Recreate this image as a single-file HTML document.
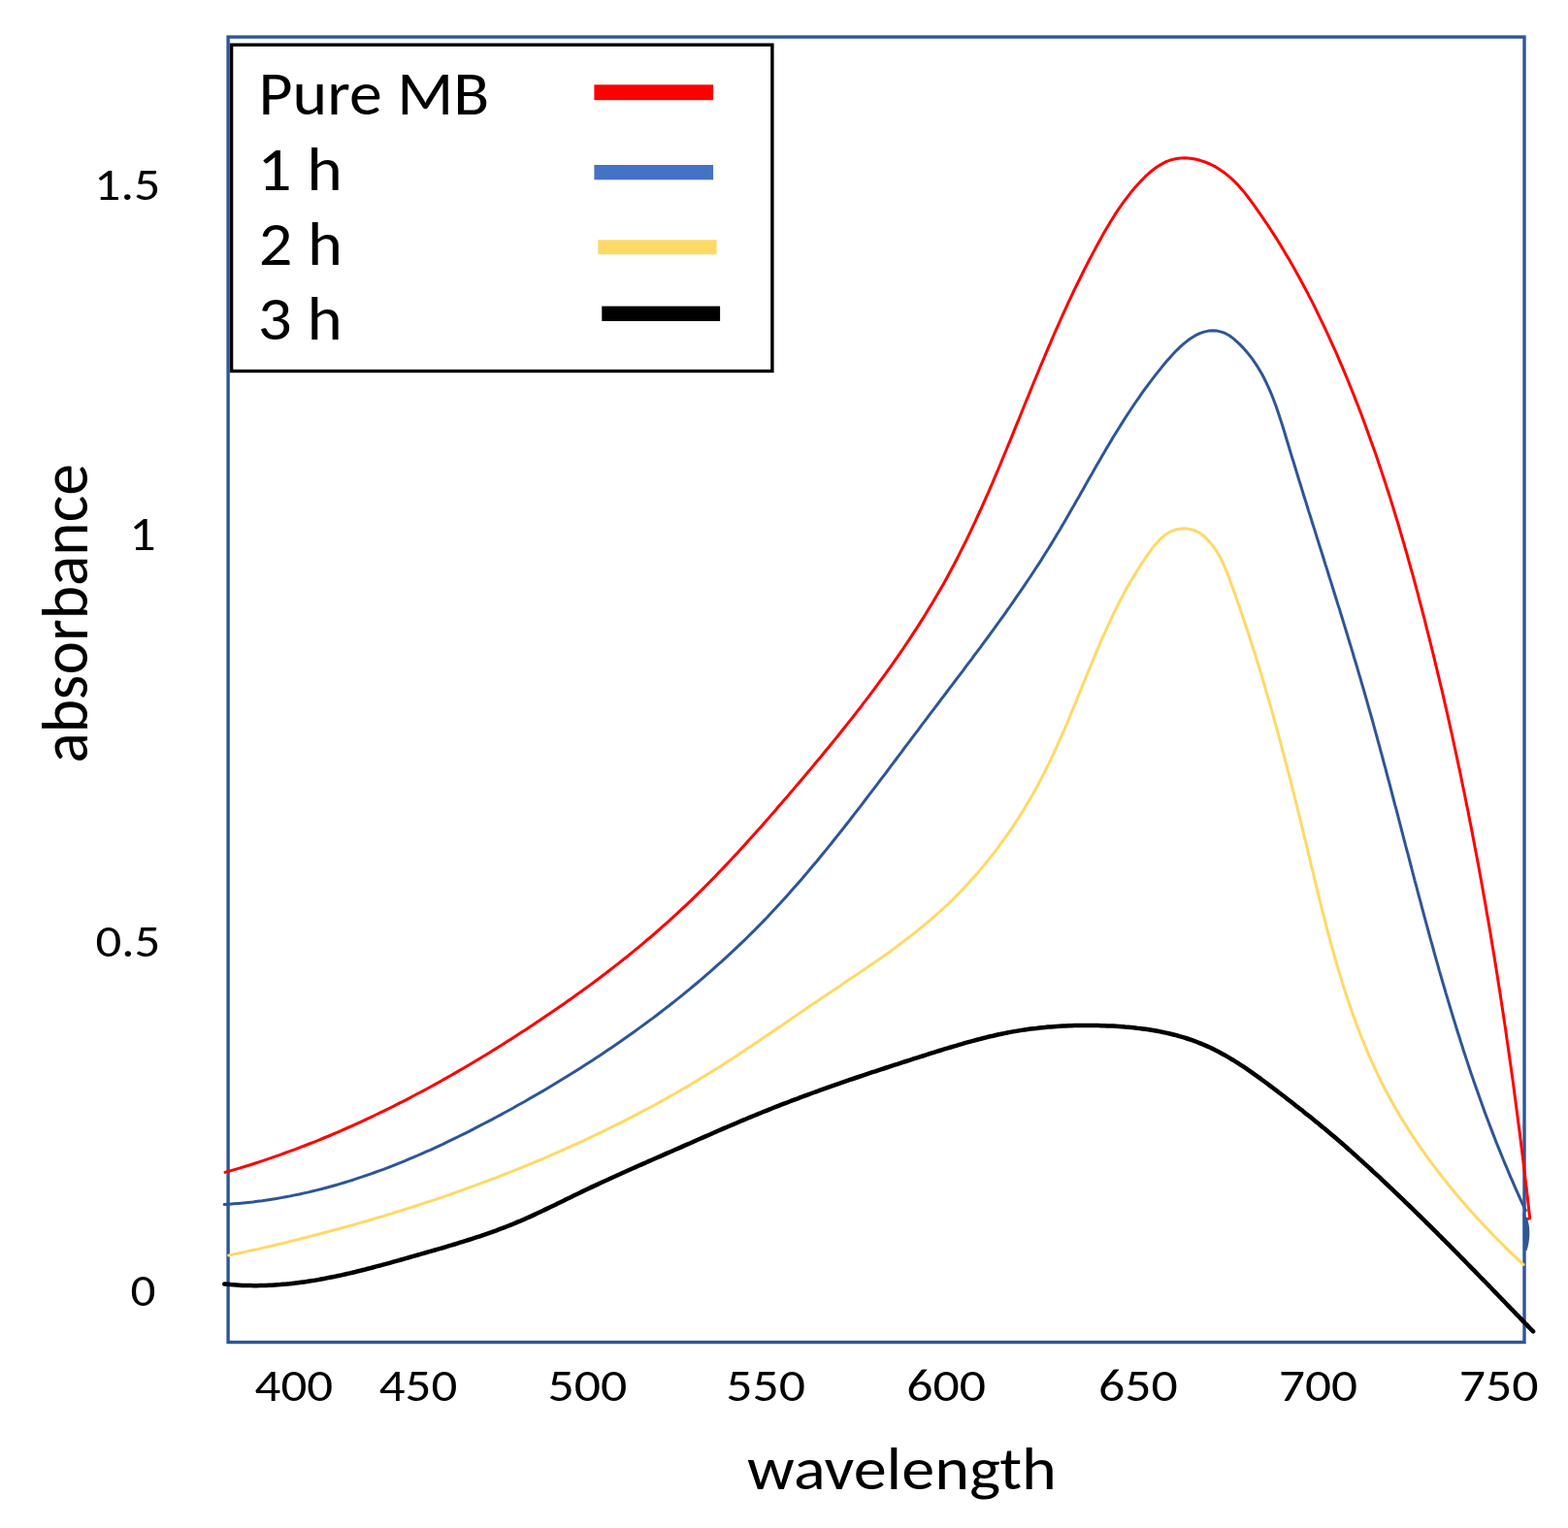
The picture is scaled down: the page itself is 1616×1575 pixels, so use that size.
<!DOCTYPE html>
<html><head><meta charset="utf-8"><title>Absorbance vs wavelength</title>
<style>
html,body{margin:0;padding:0;background:#FFFFFF;}
body{width:1616px;height:1575px;overflow:hidden;}
svg{display:block;}
text{font-size-adjust:cap-height 0.6416;}
</style></head>
<body>
<svg width="1616" height="1575" viewBox="0 0 1616 1575">
<rect x="235.1" y="38.1" width="1335.9" height="1345.4" fill="none" stroke="#2F5597" stroke-width="3.4"/>
<path d="M231.3,1323.5 L234.4,1323.8 L237.5,1324.1 L240.6,1324.3 L243.6,1324.5 L246.7,1324.7 L249.7,1324.9 L252.8,1325.0 L255.9,1325.1 L258.9,1325.1 L261.9,1325.2 L265.0,1325.2 L268.0,1325.1 L271.0,1325.1 L274.1,1325.0 L277.1,1324.8 L280.1,1324.7 L283.1,1324.5 L286.1,1324.3 L289.2,1324.1 L292.2,1323.8 L295.2,1323.6 L298.2,1323.3 L301.2,1322.9 L304.2,1322.6 L307.1,1322.2 L310.1,1321.8 L313.1,1321.4 L316.1,1321.0 L319.1,1320.5 L322.0,1320.1 L325.0,1319.6 L328.0,1319.1 L331.0,1318.5 L333.9,1318.0 L336.9,1317.4 L339.8,1316.8 L342.8,1316.3 L345.8,1315.6 L348.7,1315.0 L351.7,1314.4 L354.6,1313.7 L357.6,1313.0 L360.5,1312.4 L363.4,1311.7 L366.4,1311.0 L369.3,1310.2 L372.3,1309.5 L375.2,1308.8 L378.1,1308.0 L381.1,1307.3 L384.0,1306.5 L386.9,1305.7 L389.9,1304.9 L392.8,1304.2 L395.7,1303.4 L398.6,1302.6 L401.6,1301.8 L404.5,1300.9 L407.4,1300.1 L410.3,1299.3 L413.3,1298.5 L416.2,1297.7 L419.1,1296.8 L422.0,1296.0 L424.9,1295.2 L427.8,1294.3 L430.8,1293.5 L433.7,1292.7 L436.6,1291.8 L439.5,1291.0 L442.4,1290.2 L445.3,1289.3 L448.2,1288.5 L451.1,1287.7 L454.1,1286.8 L457.0,1286.0 L459.9,1285.1 L462.8,1284.2 L465.7,1283.4 L468.6,1282.5 L471.5,1281.6 L474.3,1280.7 L477.2,1279.8 L480.1,1278.9 L483.0,1278.0 L485.9,1277.1 L488.7,1276.2 L491.6,1275.2 L494.5,1274.3 L497.3,1273.3 L500.2,1272.3 L503.0,1271.3 L505.9,1270.3 L508.7,1269.3 L511.6,1268.3 L514.4,1267.2 L517.2,1266.2 L520.0,1265.1 L522.8,1264.0 L525.7,1262.9 L528.5,1261.8 L531.2,1260.6 L534.0,1259.4 L536.8,1258.3 L539.6,1257.1 L542.4,1255.8 L545.1,1254.6 L547.9,1253.4 L550.6,1252.1 L553.4,1250.8 L556.1,1249.5 L558.9,1248.2 L561.6,1246.9 L564.3,1245.6 L567.1,1244.3 L569.8,1243.0 L572.5,1241.7 L575.3,1240.3 L578.0,1239.0 L580.7,1237.7 L583.4,1236.3 L586.2,1235.0 L588.9,1233.7 L591.6,1232.3 L594.4,1231.0 L597.1,1229.7 L599.8,1228.4 L602.6,1227.0 L605.3,1225.7 L608.1,1224.4 L610.8,1223.1 L613.5,1221.9 L616.3,1220.6 L619.0,1219.3 L621.8,1218.0 L624.6,1216.8 L627.3,1215.5 L630.1,1214.2 L632.8,1213.0 L635.6,1211.7 L638.3,1210.5 L641.1,1209.2 L643.9,1208.0 L646.6,1206.8 L649.4,1205.5 L652.2,1204.3 L654.9,1203.1 L657.7,1201.8 L660.5,1200.6 L663.3,1199.4 L666.0,1198.2 L668.8,1196.9 L671.6,1195.7 L674.3,1194.5 L677.1,1193.3 L679.9,1192.1 L682.7,1190.9 L685.4,1189.6 L688.2,1188.4 L691.0,1187.2 L693.8,1186.0 L696.5,1184.8 L699.3,1183.6 L702.1,1182.4 L704.8,1181.1 L707.6,1179.9 L710.4,1178.7 L713.2,1177.5 L715.9,1176.3 L718.7,1175.0 L721.5,1173.8 L724.2,1172.6 L727.0,1171.4 L729.8,1170.2 L732.6,1169.0 L735.3,1167.8 L738.1,1166.5 L740.9,1165.3 L743.6,1164.1 L746.4,1162.9 L749.2,1161.7 L752.0,1160.5 L754.8,1159.4 L757.5,1158.2 L760.3,1157.0 L763.1,1155.8 L765.9,1154.6 L768.7,1153.5 L771.5,1152.3 L774.3,1151.1 L777.1,1150.0 L779.9,1148.8 L782.7,1147.7 L785.5,1146.5 L788.3,1145.4 L791.1,1144.3 L793.9,1143.2 L796.7,1142.0 L799.5,1140.9 L802.3,1139.8 L805.1,1138.7 L808.0,1137.6 L810.8,1136.6 L813.6,1135.5 L816.4,1134.4 L819.3,1133.3 L822.1,1132.3 L824.9,1131.2 L827.8,1130.2 L830.6,1129.1 L833.4,1128.1 L836.3,1127.0 L839.1,1126.0 L842.0,1125.0 L844.8,1123.9 L847.6,1122.9 L850.5,1121.9 L853.3,1120.9 L856.2,1119.9 L859.0,1118.9 L861.9,1117.9 L864.8,1116.9 L867.6,1115.9 L870.5,1114.9 L873.3,1113.9 L876.2,1112.9 L879.0,1112.0 L881.9,1111.0 L884.8,1110.0 L887.6,1109.1 L890.5,1108.1 L893.4,1107.1 L896.2,1106.2 L899.1,1105.2 L902.0,1104.3 L904.9,1103.3 L907.7,1102.4 L910.6,1101.5 L913.5,1100.5 L916.3,1099.6 L919.2,1098.6 L922.1,1097.7 L925.0,1096.8 L927.8,1095.9 L930.7,1094.9 L933.6,1094.0 L936.5,1093.1 L939.4,1092.2 L942.2,1091.2 L945.1,1090.3 L948.0,1089.4 L950.9,1088.5 L953.8,1087.6 L956.6,1086.7 L959.5,1085.7 L962.4,1084.8 L965.3,1083.9 L968.2,1083.0 L971.1,1082.1 L973.9,1081.2 L976.8,1080.4 L979.7,1079.5 L982.6,1078.6 L985.5,1077.8 L988.4,1076.9 L991.3,1076.1 L994.2,1075.2 L997.1,1074.4 L1000.0,1073.6 L1002.9,1072.8 L1005.8,1072.0 L1008.8,1071.3 L1011.7,1070.5 L1014.6,1069.8 L1017.5,1069.0 L1020.5,1068.3 L1023.4,1067.7 L1026.3,1067.0 L1029.3,1066.3 L1032.2,1065.7 L1035.2,1065.1 L1038.1,1064.5 L1041.1,1063.9 L1044.0,1063.4 L1047.0,1062.9 L1050.0,1062.4 L1053.0,1061.9 L1055.9,1061.4 L1058.9,1061.0 L1061.9,1060.6 L1064.9,1060.2 L1067.9,1059.9 L1070.9,1059.5 L1073.9,1059.2 L1077.0,1058.9 L1080.0,1058.6 L1083.0,1058.4 L1086.0,1058.2 L1089.1,1058.0 L1092.1,1057.8 L1095.1,1057.6 L1098.2,1057.5 L1101.2,1057.3 L1104.3,1057.2 L1107.3,1057.1 L1110.4,1057.1 L1113.4,1057.0 L1116.5,1057.0 L1119.5,1057.0 L1122.6,1057.0 L1125.7,1057.0 L1128.7,1057.0 L1131.8,1057.1 L1134.9,1057.2 L1138.0,1057.2 L1141.0,1057.4 L1144.1,1057.5 L1147.2,1057.6 L1150.3,1057.8 L1153.3,1058.0 L1156.4,1058.2 L1159.5,1058.5 L1162.5,1058.7 L1165.6,1059.0 L1168.6,1059.3 L1171.7,1059.7 L1174.7,1060.0 L1177.7,1060.4 L1180.8,1060.8 L1183.8,1061.3 L1186.8,1061.8 L1189.8,1062.3 L1192.8,1062.8 L1195.8,1063.4 L1198.8,1064.0 L1201.7,1064.6 L1204.7,1065.3 L1207.6,1066.0 L1210.5,1066.7 L1213.5,1067.5 L1216.4,1068.3 L1219.2,1069.2 L1222.1,1070.0 L1225.0,1071.0 L1227.8,1071.9 L1230.6,1072.9 L1233.4,1074.0 L1236.2,1075.1 L1239.0,1076.2 L1241.8,1077.4 L1244.5,1078.6 L1247.2,1079.8 L1249.9,1081.1 L1252.6,1082.5 L1255.2,1083.8 L1257.9,1085.2 L1260.5,1086.7 L1263.1,1088.1 L1265.7,1089.6 L1268.3,1091.2 L1270.9,1092.7 L1273.5,1094.3 L1276.0,1095.9 L1278.5,1097.6 L1281.1,1099.2 L1283.6,1100.9 L1286.1,1102.6 L1288.6,1104.3 L1291.1,1106.1 L1293.5,1107.8 L1296.0,1109.6 L1298.5,1111.4 L1300.9,1113.2 L1303.4,1115.0 L1305.8,1116.8 L1308.2,1118.6 L1310.7,1120.5 L1313.1,1122.3 L1315.5,1124.1 L1317.9,1126.0 L1320.3,1127.8 L1322.8,1129.7 L1325.2,1131.5 L1327.6,1133.4 L1330.0,1135.3 L1332.3,1137.1 L1334.7,1139.0 L1337.1,1140.9 L1339.5,1142.7 L1341.9,1144.6 L1344.2,1146.5 L1346.6,1148.4 L1349.0,1150.2 L1351.3,1152.1 L1353.7,1154.0 L1356.0,1155.9 L1358.4,1157.8 L1360.7,1159.7 L1363.0,1161.7 L1365.4,1163.6 L1367.7,1165.5 L1370.0,1167.5 L1372.3,1169.4 L1374.6,1171.3 L1376.9,1173.3 L1379.2,1175.3 L1381.5,1177.2 L1383.8,1179.2 L1386.0,1181.2 L1388.3,1183.2 L1390.6,1185.2 L1392.8,1187.2 L1395.1,1189.2 L1397.3,1191.2 L1399.6,1193.3 L1401.8,1195.3 L1404.1,1197.3 L1406.3,1199.4 L1408.5,1201.4 L1410.8,1203.4 L1413.0,1205.5 L1415.2,1207.6 L1417.4,1209.6 L1419.7,1211.7 L1421.9,1213.7 L1424.1,1215.8 L1426.3,1217.9 L1428.5,1220.0 L1430.7,1222.0 L1432.9,1224.1 L1435.1,1226.2 L1437.3,1228.3 L1439.5,1230.4 L1441.7,1232.5 L1443.9,1234.6 L1446.1,1236.7 L1448.2,1238.8 L1450.4,1240.9 L1452.6,1243.0 L1454.8,1245.1 L1456.9,1247.2 L1459.1,1249.3 L1461.3,1251.5 L1463.5,1253.6 L1465.6,1255.7 L1467.8,1257.8 L1469.9,1260.0 L1472.1,1262.1 L1474.2,1264.2 L1476.4,1266.4 L1478.6,1268.5 L1480.7,1270.6 L1482.8,1272.8 L1485.0,1274.9 L1487.1,1277.1 L1489.3,1279.2 L1491.4,1281.4 L1493.6,1283.5 L1495.7,1285.7 L1497.8,1287.8 L1500.0,1290.0 L1502.1,1292.1 L1504.2,1294.3 L1506.3,1296.5 L1508.5,1298.6 L1510.6,1300.8 L1512.7,1303.0 L1514.8,1305.1 L1517.0,1307.3 L1519.1,1309.4 L1521.2,1311.6 L1523.3,1313.8 L1525.4,1316.0 L1527.5,1318.1 L1529.7,1320.3 L1531.8,1322.5 L1533.9,1324.6 L1536.0,1326.8 L1538.1,1329.0 L1540.2,1331.2 L1542.3,1333.3 L1544.4,1335.5 L1546.5,1337.7 L1548.6,1339.9 L1550.7,1342.0 L1552.8,1344.2 L1554.9,1346.4 L1557.0,1348.6 L1559.1,1350.7 L1561.2,1352.9 L1563.3,1355.1 L1565.4,1357.2 L1567.5,1359.4 L1569.6,1361.6 L1571.7,1363.8 L1573.8,1365.9 L1575.9,1368.1 L1578.0,1370.3 L1580.1,1372.4" fill="none" stroke="#000000" stroke-width="4.5" stroke-linejoin="round" stroke-linecap="round"/>
<path d="M235.7,1294.0 L239.9,1293.1 L244.1,1292.2 L248.3,1291.3 L252.5,1290.4 L256.7,1289.4 L260.9,1288.5 L265.1,1287.6 L269.3,1286.6 L273.5,1285.6 L277.7,1284.7 L281.9,1283.7 L286.1,1282.7 L290.3,1281.7 L294.5,1280.7 L298.7,1279.6 L302.9,1278.6 L307.1,1277.6 L311.3,1276.5 L315.5,1275.5 L319.7,1274.4 L323.8,1273.3 L328.0,1272.2 L332.2,1271.2 L336.4,1270.0 L340.6,1268.9 L344.7,1267.8 L348.9,1266.7 L353.1,1265.5 L357.2,1264.4 L361.4,1263.2 L365.6,1262.1 L369.7,1260.9 L373.9,1259.7 L378.0,1258.5 L382.2,1257.3 L386.3,1256.1 L390.5,1254.8 L394.6,1253.6 L398.8,1252.3 L402.9,1251.1 L407.0,1249.8 L411.2,1248.5 L415.3,1247.2 L419.4,1245.9 L423.6,1244.6 L427.7,1243.3 L431.8,1242.0 L435.9,1240.6 L440.0,1239.3 L444.1,1237.9 L448.2,1236.6 L452.3,1235.2 L456.4,1233.8 L460.5,1232.4 L464.6,1231.0 L468.7,1229.5 L472.7,1228.1 L476.8,1226.6 L480.9,1225.2 L484.9,1223.7 L489.0,1222.2 L493.1,1220.7 L497.1,1219.2 L501.2,1217.7 L505.2,1216.2 L509.2,1214.7 L513.3,1213.1 L517.3,1211.5 L521.3,1210.0 L525.3,1208.4 L529.4,1206.8 L533.4,1205.2 L537.4,1203.6 L541.4,1201.9 L545.4,1200.3 L549.4,1198.6 L553.3,1197.0 L557.3,1195.3 L561.3,1193.6 L565.3,1191.9 L569.2,1190.2 L573.2,1188.5 L577.1,1186.7 L581.1,1185.0 L585.0,1183.2 L589.0,1181.4 L592.9,1179.7 L596.8,1177.9 L600.7,1176.1 L604.6,1174.2 L608.5,1172.4 L612.4,1170.5 L616.3,1168.7 L620.2,1166.8 L624.1,1164.9 L628.0,1163.0 L631.8,1161.1 L635.7,1159.2 L639.6,1157.3 L643.4,1155.3 L647.3,1153.4 L651.1,1151.4 L654.9,1149.4 L658.7,1147.4 L662.6,1145.4 L666.4,1143.3 L670.2,1141.3 L674.0,1139.3 L677.7,1137.2 L681.5,1135.1 L685.3,1133.0 L689.1,1130.9 L692.8,1128.8 L696.6,1126.7 L700.3,1124.5 L704.0,1122.3 L707.8,1120.2 L711.5,1118.0 L715.2,1115.8 L718.9,1113.6 L722.6,1111.3 L726.3,1109.1 L730.0,1106.8 L733.6,1104.6 L737.3,1102.3 L741.0,1100.0 L744.6,1097.7 L748.3,1095.3 L751.9,1093.0 L755.5,1090.7 L759.1,1088.3 L762.7,1085.9 L766.4,1083.5 L770.0,1081.1 L773.6,1078.7 L777.1,1076.3 L780.7,1073.9 L784.3,1071.5 L787.9,1069.1 L791.5,1066.6 L795.1,1064.2 L798.6,1061.8 L802.2,1059.3 L805.8,1056.9 L809.4,1054.4 L812.9,1052.0 L816.5,1049.5 L820.1,1047.1 L823.7,1044.6 L827.2,1042.2 L830.8,1039.7 L834.4,1037.3 L838.0,1034.8 L841.6,1032.4 L845.2,1030.0 L848.8,1027.5 L852.4,1025.1 L856.0,1022.7 L859.6,1020.3 L863.2,1017.9 L866.8,1015.5 L870.4,1013.1 L874.0,1010.6 L877.6,1008.2 L881.2,1005.8 L884.8,1003.4 L888.3,1000.9 L891.9,998.5 L895.5,996.1 L899.1,993.6 L902.6,991.1 L906.1,988.7 L909.7,986.2 L913.2,983.7 L916.7,981.2 L920.2,978.6 L923.7,976.1 L927.1,973.5 L930.6,970.9 L934.0,968.3 L937.4,965.7 L940.8,963.1 L944.2,960.4 L947.5,957.7 L950.9,955.0 L954.2,952.2 L957.4,949.5 L960.7,946.7 L963.9,943.9 L967.1,941.0 L970.3,938.1 L973.5,935.2 L976.6,932.3 L979.7,929.3 L982.8,926.3 L985.8,923.2 L988.8,920.2 L991.8,917.1 L994.8,913.9 L997.7,910.8 L1000.6,907.6 L1003.5,904.4 L1006.3,901.2 L1009.1,897.9 L1011.9,894.6 L1014.7,891.3 L1017.4,888.0 L1020.1,884.6 L1022.8,881.2 L1025.4,877.8 L1028.0,874.3 L1030.6,870.9 L1033.1,867.4 L1035.7,863.9 L1038.2,860.4 L1040.6,856.8 L1043.1,853.2 L1045.5,849.6 L1047.8,846.0 L1050.2,842.4 L1052.5,838.7 L1054.8,835.0 L1057.0,831.3 L1059.2,827.6 L1061.4,823.9 L1063.6,820.1 L1065.7,816.4 L1067.8,812.6 L1069.9,808.8 L1071.9,804.9 L1073.9,801.1 L1075.9,797.2 L1077.9,793.3 L1079.8,789.5 L1081.7,785.6 L1083.6,781.6 L1085.4,777.7 L1087.2,773.8 L1089.0,769.8 L1090.8,765.9 L1092.6,761.9 L1094.3,757.9 L1096.1,753.9 L1097.8,750.0 L1099.5,746.0 L1101.2,742.0 L1102.8,738.0 L1104.5,733.9 L1106.2,729.9 L1107.8,725.9 L1109.5,721.9 L1111.1,717.9 L1112.7,713.9 L1114.4,709.9 L1116.0,705.8 L1117.7,701.8 L1119.3,697.8 L1120.9,693.8 L1122.6,689.8 L1124.2,685.8 L1125.9,681.8 L1127.5,677.9 L1129.2,673.9 L1130.9,669.9 L1132.6,666.0 L1134.3,662.0 L1136.0,658.1 L1137.7,654.2 L1139.5,650.3 L1141.2,646.4 L1143.0,642.5 L1144.8,638.6 L1146.6,634.8 L1148.5,630.9 L1150.4,627.1 L1152.3,623.3 L1154.2,619.5 L1156.2,615.7 L1158.2,611.9 L1160.3,608.1 L1162.4,604.3 L1164.5,600.6 L1166.7,596.8 L1169.0,593.1 L1171.3,589.4 L1173.6,585.7 L1176.0,581.9 L1178.4,578.2 L1180.9,574.5 L1183.5,570.9 L1186.1,567.2 L1188.9,563.6 L1191.7,560.2 L1194.7,556.9 L1197.8,553.9 L1201.1,551.2 L1204.6,549.0 L1208.3,547.1 L1212.3,545.8 L1216.4,545.1 L1220.6,544.8 L1224.8,545.1 L1228.9,546.0 L1232.9,547.5 L1236.7,549.6 L1240.2,552.2 L1243.4,555.2 L1246.4,558.4 L1249.2,561.7 L1251.8,565.2 L1254.2,568.8 L1256.4,572.5 L1258.4,576.3 L1260.3,580.2 L1262.1,584.1 L1263.7,588.1 L1265.3,592.2 L1266.9,596.3 L1268.4,600.4 L1269.9,604.4 L1271.4,608.5 L1272.8,612.6 L1274.3,616.8 L1275.7,620.9 L1277.2,625.0 L1278.6,629.1 L1280.0,633.2 L1281.4,637.3 L1282.8,641.4 L1284.1,645.5 L1285.5,649.6 L1286.9,653.8 L1288.2,657.9 L1289.5,662.0 L1290.8,666.1 L1292.2,670.2 L1293.5,674.4 L1294.7,678.5 L1296.0,682.6 L1297.3,686.8 L1298.6,690.9 L1299.8,695.0 L1301.0,699.2 L1302.3,703.3 L1303.5,707.5 L1304.7,711.6 L1305.9,715.8 L1307.1,719.9 L1308.3,724.0 L1309.5,728.2 L1310.7,732.4 L1311.8,736.5 L1313.0,740.7 L1314.2,744.8 L1315.3,749.0 L1316.4,753.1 L1317.6,757.3 L1318.7,761.5 L1319.8,765.6 L1320.9,769.8 L1322.0,774.0 L1323.2,778.2 L1324.2,782.3 L1325.3,786.5 L1326.4,790.7 L1327.5,794.9 L1328.6,799.0 L1329.7,803.2 L1330.7,807.4 L1331.8,811.6 L1332.8,815.8 L1333.9,820.0 L1334.9,824.2 L1336.0,828.4 L1337.0,832.6 L1338.1,836.8 L1339.1,841.0 L1340.1,845.2 L1341.2,849.4 L1342.2,853.6 L1343.2,857.8 L1344.2,862.0 L1345.2,866.2 L1346.3,870.4 L1347.3,874.6 L1348.3,878.8 L1349.3,883.0 L1350.3,887.3 L1351.3,891.5 L1352.3,895.7 L1353.4,899.9 L1354.4,904.1 L1355.4,908.3 L1356.4,912.6 L1357.4,916.8 L1358.5,921.0 L1359.5,925.2 L1360.5,929.4 L1361.6,933.6 L1362.6,937.8 L1363.7,942.0 L1364.8,946.2 L1365.9,950.4 L1366.9,954.6 L1368.0,958.8 L1369.1,963.0 L1370.3,967.2 L1371.4,971.4 L1372.5,975.5 L1373.7,979.7 L1374.9,983.9 L1376.0,988.0 L1377.2,992.2 L1378.4,996.3 L1379.7,1000.5 L1380.9,1004.6 L1382.2,1008.7 L1383.4,1012.9 L1384.7,1017.0 L1386.0,1021.1 L1387.4,1025.2 L1388.7,1029.3 L1390.1,1033.4 L1391.5,1037.4 L1392.9,1041.5 L1394.3,1045.6 L1395.8,1049.6 L1397.2,1053.7 L1398.7,1057.7 L1400.3,1061.7 L1401.8,1065.7 L1403.4,1069.7 L1405.0,1073.7 L1406.6,1077.7 L1408.3,1081.7 L1409.9,1085.6 L1411.7,1089.6 L1413.4,1093.5 L1415.2,1097.4 L1417.0,1101.3 L1418.8,1105.2 L1420.6,1109.1 L1422.5,1113.0 L1424.5,1116.8 L1426.4,1120.7 L1428.4,1124.5 L1430.4,1128.3 L1432.5,1132.1 L1434.6,1135.9 L1436.7,1139.6 L1438.8,1143.4 L1441.0,1147.1 L1443.2,1150.9 L1445.5,1154.6 L1447.8,1158.3 L1450.1,1161.9 L1452.4,1165.6 L1454.8,1169.2 L1457.2,1172.9 L1459.6,1176.5 L1462.1,1180.1 L1464.5,1183.7 L1467.1,1187.2 L1469.6,1190.8 L1472.1,1194.3 L1474.7,1197.8 L1477.3,1201.3 L1480.0,1204.8 L1482.6,1208.3 L1485.3,1211.7 L1488.0,1215.1 L1490.7,1218.5 L1493.4,1221.9 L1496.2,1225.3 L1499.0,1228.7 L1501.8,1232.0 L1504.6,1235.3 L1507.4,1238.6 L1510.3,1241.9 L1513.1,1245.2 L1516.0,1248.4 L1518.9,1251.6 L1521.8,1254.9 L1524.8,1258.0 L1527.7,1261.2 L1530.7,1264.4 L1533.6,1267.5 L1536.6,1270.6 L1539.6,1273.7 L1542.6,1276.8 L1545.6,1279.8 L1548.7,1282.8 L1551.7,1285.9 L1554.7,1288.8 L1557.8,1291.8 L1560.9,1294.8 L1563.9,1297.7 L1567.0,1300.6 L1570.1,1303.5" fill="none" stroke="#FFD966" stroke-width="3.0" stroke-linejoin="round" stroke-linecap="round"/>
<path d="M231.1,1241.5 L236.1,1241.2 L241.0,1240.8 L245.9,1240.4 L250.8,1239.9 L255.7,1239.4 L260.6,1238.9 L265.4,1238.3 L270.3,1237.7 L275.1,1237.0 L279.9,1236.2 L284.7,1235.5 L289.5,1234.6 L294.2,1233.8 L299.0,1232.9 L303.7,1231.9 L308.4,1231.0 L313.1,1229.9 L317.8,1228.9 L322.4,1227.8 L327.1,1226.6 L331.7,1225.5 L336.3,1224.2 L340.9,1223.0 L345.5,1221.7 L350.1,1220.4 L354.7,1219.0 L359.2,1217.6 L363.8,1216.2 L368.3,1214.7 L372.8,1213.2 L377.3,1211.7 L381.8,1210.1 L386.3,1208.5 L390.7,1206.9 L395.2,1205.3 L399.6,1203.6 L404.1,1201.9 L408.5,1200.1 L412.9,1198.4 L417.3,1196.6 L421.7,1194.7 L426.1,1192.9 L430.4,1191.0 L434.8,1189.1 L439.1,1187.2 L443.5,1185.3 L447.8,1183.3 L452.1,1181.3 L456.5,1179.3 L460.8,1177.2 L465.0,1175.2 L469.3,1173.1 L473.6,1171.0 L477.9,1168.9 L482.1,1166.8 L486.4,1164.6 L490.6,1162.4 L494.9,1160.2 L499.1,1158.0 L503.3,1155.8 L507.6,1153.6 L511.8,1151.3 L516.0,1149.1 L520.2,1146.8 L524.4,1144.5 L528.6,1142.2 L532.7,1139.8 L536.9,1137.5 L541.1,1135.2 L545.2,1132.8 L549.4,1130.4 L553.5,1128.0 L557.7,1125.6 L561.8,1123.2 L565.9,1120.7 L570.0,1118.3 L574.1,1115.8 L578.2,1113.3 L582.3,1110.8 L586.4,1108.3 L590.4,1105.8 L594.5,1103.2 L598.5,1100.7 L602.6,1098.1 L606.6,1095.5 L610.6,1092.9 L614.6,1090.3 L618.6,1087.7 L622.6,1085.0 L626.5,1082.3 L630.5,1079.7 L634.4,1077.0 L638.4,1074.2 L642.3,1071.5 L646.2,1068.8 L650.1,1066.0 L654.0,1063.2 L657.9,1060.4 L661.7,1057.6 L665.6,1054.8 L669.4,1051.9 L673.3,1049.1 L677.1,1046.2 L680.9,1043.3 L684.6,1040.4 L688.4,1037.5 L692.2,1034.5 L695.9,1031.6 L699.6,1028.6 L703.4,1025.6 L707.0,1022.6 L710.7,1019.6 L714.4,1016.5 L718.1,1013.5 L721.7,1010.4 L725.3,1007.3 L728.9,1004.2 L732.5,1001.1 L736.1,997.9 L739.6,994.7 L743.2,991.6 L746.7,988.4 L750.2,985.1 L753.7,981.9 L757.2,978.7 L760.6,975.4 L764.0,972.1 L767.5,968.8 L770.9,965.5 L774.2,962.1 L777.6,958.8 L781.0,955.4 L784.3,952.0 L787.6,948.6 L790.9,945.2 L794.1,941.7 L797.4,938.2 L800.6,934.8 L803.9,931.3 L807.1,927.8 L810.3,924.2 L813.4,920.7 L816.6,917.1 L819.7,913.6 L822.9,910.0 L826.0,906.4 L829.1,902.8 L832.2,899.1 L835.2,895.5 L838.3,891.8 L841.4,888.2 L844.4,884.5 L847.4,880.8 L850.5,877.1 L853.5,873.4 L856.5,869.7 L859.4,866.0 L862.4,862.3 L865.4,858.5 L868.4,854.8 L871.3,851.0 L874.3,847.3 L877.2,843.5 L880.1,839.7 L883.1,835.9 L886.0,832.1 L888.9,828.3 L891.8,824.5 L894.7,820.7 L897.6,816.9 L900.5,813.1 L903.4,809.3 L906.3,805.4 L909.2,801.6 L912.1,797.8 L915.0,794.0 L917.8,790.1 L920.7,786.3 L923.6,782.5 L926.5,778.6 L929.4,774.8 L932.2,770.9 L935.1,767.1 L938.0,763.3 L940.9,759.4 L943.8,755.6 L946.7,751.8 L949.5,747.9 L952.4,744.1 L955.3,740.3 L958.2,736.4 L961.1,732.6 L964.0,728.8 L966.9,725.0 L969.8,721.1 L972.7,717.3 L975.6,713.5 L978.5,709.7 L981.4,705.9 L984.3,702.0 L987.2,698.2 L990.1,694.4 L993.0,690.6 L995.8,686.7 L998.7,682.9 L1001.6,679.1 L1004.4,675.2 L1007.3,671.4 L1010.2,667.6 L1013.0,663.7 L1015.8,659.9 L1018.7,656.0 L1021.5,652.1 L1024.3,648.3 L1027.1,644.4 L1029.9,640.5 L1032.7,636.7 L1035.5,632.8 L1038.2,628.9 L1041.0,625.0 L1043.7,621.1 L1046.4,617.2 L1049.1,613.2 L1051.8,609.3 L1054.5,605.4 L1057.2,601.4 L1059.8,597.5 L1062.5,593.5 L1065.1,589.5 L1067.7,585.5 L1070.3,581.6 L1072.9,577.6 L1075.4,573.5 L1077.9,569.5 L1080.5,565.5 L1083.0,561.4 L1085.4,557.4 L1087.9,553.3 L1090.3,549.2 L1092.8,545.2 L1095.2,541.1 L1097.6,537.0 L1100.0,532.8 L1102.3,528.7 L1104.7,524.6 L1107.1,520.5 L1109.4,516.3 L1111.8,512.2 L1114.1,508.1 L1116.5,503.9 L1118.8,499.8 L1121.2,495.6 L1123.5,491.5 L1125.9,487.4 L1128.2,483.2 L1130.6,479.1 L1133.0,475.0 L1135.4,470.8 L1137.8,466.7 L1140.2,462.6 L1142.6,458.5 L1145.1,454.4 L1147.5,450.3 L1150.0,446.2 L1152.5,442.2 L1155.1,438.1 L1157.6,434.1 L1160.2,430.0 L1162.8,426.0 L1165.5,422.0 L1168.1,418.0 L1170.8,414.0 L1173.6,410.1 L1176.3,406.1 L1179.1,402.2 L1182.0,398.3 L1184.9,394.4 L1187.8,390.6 L1190.8,386.7 L1193.8,382.9 L1196.8,379.1 L1199.9,375.3 L1203.1,371.6 L1206.3,367.9 L1209.6,364.3 L1213.0,360.8 L1216.5,357.4 L1220.2,354.1 L1224.0,351.1 L1228.0,348.3 L1232.2,345.7 L1236.5,343.6 L1240.9,342.1 L1245.4,341.1 L1249.9,340.8 L1254.4,341.1 L1258.8,342.1 L1263.1,343.7 L1267.2,346.0 L1271.0,348.9 L1274.7,352.1 L1278.2,355.4 L1281.6,358.9 L1284.7,362.5 L1287.7,366.1 L1290.6,369.9 L1293.3,373.8 L1295.9,377.7 L1298.3,381.7 L1300.7,385.8 L1302.9,390.0 L1305.0,394.3 L1307.0,398.6 L1308.9,402.9 L1310.8,407.3 L1312.5,411.8 L1314.2,416.3 L1315.8,420.8 L1317.4,425.4 L1318.9,430.0 L1320.4,434.6 L1321.9,439.2 L1323.3,443.9 L1324.7,448.5 L1326.1,453.2 L1327.5,457.8 L1328.9,462.5 L1330.3,467.1 L1331.7,471.8 L1333.2,476.4 L1334.6,481.0 L1336.0,485.6 L1337.4,490.3 L1338.8,494.9 L1340.3,499.5 L1341.7,504.1 L1343.1,508.7 L1344.5,513.3 L1346.0,517.9 L1347.4,522.5 L1348.8,527.1 L1350.3,531.6 L1351.7,536.2 L1353.1,540.8 L1354.6,545.4 L1356.0,549.9 L1357.4,554.5 L1358.9,559.1 L1360.3,563.6 L1361.8,568.2 L1363.2,572.8 L1364.6,577.3 L1366.0,581.9 L1367.5,586.4 L1368.9,591.0 L1370.3,595.6 L1371.8,600.1 L1373.2,604.7 L1374.6,609.2 L1376.0,613.8 L1377.4,618.3 L1378.8,622.9 L1380.3,627.4 L1381.7,632.0 L1383.1,636.5 L1384.5,641.1 L1385.9,645.6 L1387.3,650.2 L1388.7,654.7 L1390.0,659.3 L1391.4,663.8 L1392.8,668.4 L1394.2,672.9 L1395.5,677.5 L1396.9,682.0 L1398.3,686.6 L1399.6,691.2 L1400.9,695.7 L1402.3,700.3 L1403.6,704.9 L1405.0,709.5 L1406.3,714.0 L1407.6,718.6 L1408.9,723.2 L1410.2,727.8 L1411.5,732.4 L1412.8,737.0 L1414.1,741.5 L1415.4,746.1 L1416.6,750.7 L1417.9,755.3 L1419.2,760.0 L1420.4,764.6 L1421.7,769.2 L1422.9,773.8 L1424.2,778.4 L1425.4,783.0 L1426.6,787.6 L1427.9,792.2 L1429.1,796.9 L1430.3,801.5 L1431.6,806.1 L1432.8,810.7 L1434.0,815.4 L1435.2,820.0 L1436.4,824.6 L1437.6,829.3 L1438.9,833.9 L1440.1,838.5 L1441.3,843.2 L1442.5,847.8 L1443.7,852.4 L1444.9,857.1 L1446.1,861.7 L1447.3,866.3 L1448.5,871.0 L1449.7,875.6 L1451.0,880.2 L1452.2,884.9 L1453.4,889.5 L1454.6,894.2 L1455.8,898.8 L1457.0,903.4 L1458.2,908.1 L1459.5,912.7 L1460.7,917.3 L1461.9,922.0 L1463.2,926.6 L1464.4,931.2 L1465.6,935.9 L1466.9,940.5 L1468.1,945.1 L1469.4,949.8 L1470.6,954.4 L1471.9,959.0 L1473.1,963.6 L1474.4,968.3 L1475.7,972.9 L1477.0,977.5 L1478.2,982.1 L1479.5,986.7 L1480.8,991.3 L1482.1,995.9 L1483.4,1000.6 L1484.8,1005.2 L1486.1,1009.8 L1487.4,1014.4 L1488.8,1019.0 L1490.1,1023.6 L1491.5,1028.1 L1492.8,1032.7 L1494.2,1037.3 L1495.6,1041.9 L1497.0,1046.5 L1498.4,1051.1 L1499.8,1055.6 L1501.2,1060.2 L1502.6,1064.8 L1504.1,1069.3 L1505.5,1073.9 L1507.0,1078.4 L1508.4,1083.0 L1509.9,1087.5 L1511.4,1092.1 L1512.9,1096.6 L1514.4,1101.2 L1515.9,1105.7 L1517.5,1110.2 L1519.0,1114.7 L1520.6,1119.2 L1522.2,1123.8 L1523.8,1128.3 L1525.4,1132.8 L1527.0,1137.3 L1528.6,1141.7 L1530.2,1146.2 L1531.9,1150.7 L1533.6,1155.2 L1535.3,1159.7 L1537.0,1164.1 L1538.7,1168.6 L1540.4,1173.0 L1542.1,1177.5 L1543.9,1181.9 L1545.7,1186.4 L1547.5,1190.8 L1549.3,1195.2 L1551.1,1199.6 L1553.0,1204.0 L1554.8,1208.4 L1556.7,1212.8 L1558.6,1217.2 L1560.5,1221.6 L1562.4,1226.0 L1564.4,1230.3 L1566.3,1234.7 L1568.3,1239.1 L1570.3,1243.4 L1572.4,1247.7" fill="none" stroke="#2F5597" stroke-width="3.0" stroke-linejoin="round" stroke-linecap="round"/>
<path d="M232.0,1208.4 L237.2,1206.9 L242.4,1205.4 L247.6,1203.9 L252.8,1202.3 L257.9,1200.7 L263.1,1199.0 L268.2,1197.3 L273.3,1195.6 L278.4,1193.9 L283.5,1192.1 L288.6,1190.4 L293.6,1188.5 L298.7,1186.7 L303.7,1184.8 L308.8,1182.9 L313.8,1181.0 L318.8,1179.0 L323.8,1177.1 L328.7,1175.1 L333.7,1173.0 L338.7,1171.0 L343.6,1168.9 L348.5,1166.8 L353.4,1164.6 L358.3,1162.5 L363.2,1160.3 L368.1,1158.1 L373.0,1155.9 L377.8,1153.6 L382.7,1151.3 L387.5,1149.0 L392.4,1146.7 L397.2,1144.4 L402.0,1142.0 L406.8,1139.6 L411.5,1137.2 L416.3,1134.8 L421.1,1132.3 L425.8,1129.8 L430.5,1127.3 L435.3,1124.8 L440.0,1122.3 L444.7,1119.7 L449.4,1117.1 L454.1,1114.5 L458.7,1111.9 L463.4,1109.3 L468.1,1106.6 L472.7,1103.9 L477.3,1101.2 L482.0,1098.5 L486.6,1095.8 L491.2,1093.0 L495.8,1090.3 L500.4,1087.5 L504.9,1084.7 L509.5,1081.9 L514.1,1079.0 L518.6,1076.2 L523.1,1073.3 L527.7,1070.4 L532.2,1067.5 L536.7,1064.6 L541.2,1061.7 L545.7,1058.8 L550.2,1055.8 L554.6,1052.8 L559.1,1049.8 L563.5,1046.8 L568.0,1043.8 L572.4,1040.8 L576.8,1037.7 L581.2,1034.7 L585.6,1031.6 L590.0,1028.5 L594.4,1025.3 L598.7,1022.2 L603.1,1019.0 L607.4,1015.9 L611.7,1012.7 L616.0,1009.5 L620.3,1006.2 L624.6,1003.0 L628.8,999.7 L633.1,996.4 L637.3,993.1 L641.5,989.8 L645.7,986.5 L649.8,983.1 L654.0,979.7 L658.1,976.3 L662.3,972.9 L666.3,969.4 L670.4,966.0 L674.5,962.5 L678.5,959.0 L682.5,955.4 L686.5,951.9 L690.5,948.3 L694.5,944.7 L698.4,941.1 L702.3,937.4 L706.2,933.8 L710.1,930.1 L714.0,926.4 L717.8,922.6 L721.6,918.9 L725.4,915.1 L729.2,911.3 L732.9,907.5 L736.7,903.7 L740.4,899.8 L744.1,896.0 L747.8,892.1 L751.5,888.2 L755.1,884.3 L758.8,880.4 L762.4,876.4 L766.0,872.5 L769.6,868.5 L773.2,864.5 L776.8,860.5 L780.4,856.5 L784.0,852.5 L787.5,848.5 L791.1,844.5 L794.6,840.4 L798.1,836.4 L801.6,832.3 L805.1,828.2 L808.6,824.2 L812.1,820.1 L815.6,816.0 L819.1,811.9 L822.6,807.8 L826.1,803.7 L829.5,799.6 L833.0,795.5 L836.5,791.4 L839.9,787.3 L843.3,783.1 L846.8,779.0 L850.2,774.8 L853.6,770.7 L857.0,766.5 L860.4,762.4 L863.8,758.2 L867.1,754.0 L870.5,749.8 L873.8,745.6 L877.2,741.4 L880.5,737.1 L883.8,732.9 L887.1,728.7 L890.3,724.4 L893.6,720.1 L896.8,715.9 L900.0,711.6 L903.2,707.3 L906.4,702.9 L909.6,698.6 L912.7,694.3 L915.9,689.9 L919.0,685.6 L922.1,681.2 L925.1,676.8 L928.2,672.4 L931.2,668.0 L934.2,663.5 L937.2,659.1 L940.1,654.6 L943.0,650.1 L946.0,645.6 L948.8,641.1 L951.7,636.6 L954.5,632.0 L957.3,627.4 L960.1,622.9 L962.8,618.3 L965.6,613.6 L968.3,609.0 L970.9,604.4 L973.6,599.7 L976.2,595.0 L978.7,590.3 L981.3,585.5 L983.8,580.8 L986.3,576.0 L988.7,571.2 L991.1,566.4 L993.5,561.6 L995.9,556.8 L998.3,551.9 L1000.6,547.1 L1002.9,542.2 L1005.2,537.3 L1007.4,532.4 L1009.7,527.5 L1011.9,522.6 L1014.1,517.7 L1016.3,512.7 L1018.5,507.8 L1020.6,502.8 L1022.8,497.9 L1024.9,492.9 L1027.0,487.9 L1029.1,483.0 L1031.2,478.0 L1033.2,473.0 L1035.3,468.0 L1037.4,463.0 L1039.4,458.1 L1041.5,453.1 L1043.5,448.1 L1045.5,443.1 L1047.5,438.1 L1049.6,433.2 L1051.6,428.2 L1053.6,423.2 L1055.6,418.3 L1057.6,413.3 L1059.7,408.4 L1061.7,403.4 L1063.7,398.5 L1065.7,393.5 L1067.8,388.6 L1069.8,383.7 L1071.8,378.8 L1073.9,373.9 L1076.0,369.0 L1078.0,364.1 L1080.1,359.2 L1082.2,354.3 L1084.3,349.4 L1086.4,344.5 L1088.5,339.7 L1090.7,334.8 L1092.8,330.0 L1095.0,325.2 L1097.2,320.3 L1099.4,315.5 L1101.6,310.7 L1103.9,305.9 L1106.1,301.1 L1108.4,296.3 L1110.8,291.5 L1113.1,286.8 L1115.5,282.0 L1117.8,277.3 L1120.3,272.5 L1122.7,267.8 L1125.2,263.1 L1127.7,258.4 L1130.2,253.7 L1132.8,249.0 L1135.4,244.3 L1138.0,239.6 L1140.7,235.0 L1143.4,230.4 L1146.3,225.8 L1149.1,221.2 L1152.1,216.7 L1155.2,212.2 L1158.4,207.7 L1161.7,203.3 L1165.1,198.9 L1168.6,194.6 L1172.3,190.4 L1176.2,186.2 L1180.1,182.2 L1184.2,178.5 L1188.4,175.0 L1192.8,171.8 L1197.3,169.1 L1201.9,166.7 L1206.7,164.9 L1211.5,163.7 L1216.5,163.0 L1221.6,162.8 L1226.7,163.2 L1231.8,164.0 L1236.9,165.3 L1241.9,167.0 L1246.8,169.0 L1251.7,171.4 L1256.3,174.2 L1260.8,177.2 L1265.1,180.6 L1269.2,184.1 L1273.1,187.9 L1276.8,191.8 L1280.4,195.9 L1283.9,200.1 L1287.2,204.5 L1290.5,208.9 L1293.7,213.3 L1296.8,217.8 L1300.0,222.3 L1303.0,226.8 L1306.1,231.3 L1309.0,235.8 L1312.0,240.4 L1314.9,244.9 L1317.8,249.5 L1320.6,254.1 L1323.4,258.7 L1326.1,263.4 L1328.9,268.0 L1331.6,272.7 L1334.2,277.3 L1336.8,282.0 L1339.4,286.7 L1342.0,291.4 L1344.5,296.2 L1347.0,300.9 L1349.4,305.6 L1351.9,310.4 L1354.3,315.2 L1356.7,320.0 L1359.0,324.8 L1361.3,329.6 L1363.6,334.4 L1365.9,339.2 L1368.2,344.1 L1370.4,348.9 L1372.6,353.8 L1374.8,358.7 L1377.0,363.5 L1379.1,368.4 L1381.2,373.3 L1383.3,378.2 L1385.4,383.2 L1387.5,388.1 L1389.5,393.0 L1391.5,398.0 L1393.5,402.9 L1395.5,407.9 L1397.4,412.9 L1399.4,417.8 L1401.3,422.8 L1403.2,427.8 L1405.1,432.8 L1407.0,437.9 L1408.8,442.9 L1410.6,447.9 L1412.4,452.9 L1414.2,458.0 L1416.0,463.0 L1417.8,468.1 L1419.5,473.1 L1421.2,478.2 L1422.9,483.3 L1424.6,488.4 L1426.3,493.5 L1428.0,498.6 L1429.6,503.7 L1431.3,508.8 L1432.9,513.9 L1434.5,519.0 L1436.1,524.1 L1437.6,529.2 L1439.2,534.4 L1440.8,539.5 L1442.3,544.7 L1443.8,549.8 L1445.3,555.0 L1446.8,560.1 L1448.3,565.3 L1449.8,570.4 L1451.2,575.6 L1452.7,580.8 L1454.1,586.0 L1455.6,591.1 L1457.0,596.3 L1458.4,601.5 L1459.8,606.7 L1461.2,611.9 L1462.5,617.1 L1463.9,622.3 L1465.3,627.5 L1466.6,632.7 L1468.0,637.9 L1469.3,643.1 L1470.6,648.3 L1471.9,653.5 L1473.2,658.7 L1474.5,663.9 L1475.8,669.1 L1477.1,674.3 L1478.4,679.6 L1479.6,684.8 L1480.9,690.0 L1482.1,695.2 L1483.4,700.5 L1484.6,705.7 L1485.9,710.9 L1487.1,716.1 L1488.3,721.4 L1489.5,726.6 L1490.7,731.8 L1491.9,737.1 L1493.1,742.3 L1494.2,747.5 L1495.4,752.8 L1496.6,758.0 L1497.7,763.3 L1498.8,768.5 L1500.0,773.8 L1501.1,779.0 L1502.2,784.3 L1503.3,789.5 L1504.5,794.8 L1505.6,800.0 L1506.6,805.3 L1507.7,810.5 L1508.8,815.8 L1509.9,821.0 L1510.9,826.3 L1512.0,831.6 L1513.1,836.8 L1514.1,842.1 L1515.1,847.4 L1516.2,852.6 L1517.2,857.9 L1518.2,863.2 L1519.2,868.4 L1520.2,873.7 L1521.2,879.0 L1522.2,884.3 L1523.2,889.5 L1524.2,894.8 L1525.1,900.1 L1526.1,905.4 L1527.0,910.6 L1528.0,915.9 L1528.9,921.2 L1529.9,926.5 L1530.8,931.8 L1531.7,937.1 L1532.6,942.4 L1533.6,947.6 L1534.5,952.9 L1535.4,958.2 L1536.3,963.5 L1537.1,968.8 L1538.0,974.1 L1538.9,979.4 L1539.8,984.7 L1540.6,990.0 L1541.5,995.3 L1542.3,1000.6 L1543.2,1005.9 L1544.0,1011.2 L1544.8,1016.5 L1545.7,1021.8 L1546.5,1027.1 L1547.3,1032.4 L1548.1,1037.7 L1548.9,1043.0 L1549.7,1048.3 L1550.5,1053.6 L1551.3,1058.9 L1552.1,1064.3 L1552.8,1069.6 L1553.6,1074.9 L1554.4,1080.2 L1555.1,1085.5 L1555.9,1090.8 L1556.6,1096.1 L1557.4,1101.4 L1558.1,1106.8 L1558.9,1112.1 L1559.6,1117.4 L1560.3,1122.7 L1561.0,1128.0 L1561.7,1133.3 L1562.4,1138.7 L1563.1,1144.0 L1563.8,1149.3 L1564.5,1154.6 L1565.2,1160.0 L1565.9,1165.3 L1566.6,1170.6 L1567.2,1175.9 L1567.9,1181.2 L1568.6,1186.6 L1569.2,1191.9 L1569.9,1197.2 L1570.5,1202.6 L1571.2,1207.9 L1571.8,1213.2 L1572.4,1218.5 L1573.1,1223.9 L1573.7,1229.2 L1574.3,1234.5 L1574.9,1239.9 L1575.5,1245.2 L1576.1,1250.5 L1576.7,1255.8 L1571.5,1257.0" fill="none" stroke="#FF0000" stroke-width="3.0" stroke-linejoin="round" stroke-linecap="round"/>
<path d="M1569.5,1250 C1577.5,1256 1578,1276 1573.5,1289 L1570,1289 Z" fill="#2F5597"/>
<rect x="238.6" y="46.2" width="557.3" height="336.3" fill="#FFFFFF" stroke="#000000" stroke-width="3.4"/>
<rect x="612.4" y="87.3" width="122.7" height="15.9" fill="#FF0000"/>
<rect x="612.4" y="170" width="122.7" height="15.3" fill="#4472C4"/>
<rect x="616.3" y="247.3" width="122.3" height="14.9" fill="#FFD966"/>
<rect x="620.3" y="315.6" width="121.8" height="15.4" fill="#000000"/>
<g font-family="Carlito, 'Liberation Sans', sans-serif" fill="#000000">
<text x="266.44" y="118.30" font-size="64.06" textLength="237.77" lengthAdjust="spacingAndGlyphs">Pure MB</text>
<text x="265.17" y="195.90" font-size="64.38" textLength="87.79" lengthAdjust="spacingAndGlyphs">1 h</text>
<text x="266.72" y="272.70" font-size="63.37" textLength="86.15" lengthAdjust="spacingAndGlyphs">2 h</text>
<text x="265.89" y="350.20" font-size="64.38" textLength="87.03" lengthAdjust="spacingAndGlyphs">3 h</text>
<text x="97.14" y="205.53" font-size="47.75" textLength="68.24" lengthAdjust="spacingAndGlyphs">1.5</text>
<text x="133.23" y="566.50" font-size="49.10" textLength="27.40" lengthAdjust="spacingAndGlyphs">1</text>
<text x="98.43" y="985.63" font-size="47.36" textLength="66.89" lengthAdjust="spacingAndGlyphs">0.5</text>
<text x="134.58" y="1346.07" font-size="48.19" textLength="25.95" lengthAdjust="spacingAndGlyphs">0</text>
<text x="262.59" y="1444.07" font-size="48.19" textLength="80.58" lengthAdjust="spacingAndGlyphs">400</text>
<text x="390.69" y="1444.07" font-size="48.19" textLength="80.58" lengthAdjust="spacingAndGlyphs">450</text>
<text x="564.46" y="1444.07" font-size="48.19" textLength="81.84" lengthAdjust="spacingAndGlyphs">500</text>
<text x="748.26" y="1444.07" font-size="48.19" textLength="81.84" lengthAdjust="spacingAndGlyphs">550</text>
<text x="934.28" y="1444.06" font-size="46.29" textLength="81.81" lengthAdjust="spacingAndGlyphs">600</text>
<text x="1131.98" y="1444.06" font-size="46.29" textLength="81.81" lengthAdjust="spacingAndGlyphs">650</text>
<text x="1318.05" y="1444.07" font-size="48.19" textLength="81.03" lengthAdjust="spacingAndGlyphs">700</text>
<text x="1503.72" y="1444.07" font-size="48.19" textLength="81.87" lengthAdjust="spacingAndGlyphs">750</text>
<text x="769.91" y="1535.00" font-size="62.36" textLength="319.01" lengthAdjust="spacingAndGlyphs">wavelength</text>
<text transform="translate(89.70,786.48) rotate(-90)" x="0" y="0" font-size="68.41" textLength="308.34" lengthAdjust="spacingAndGlyphs">absorbance</text>
</g>
</svg>
</body></html>
